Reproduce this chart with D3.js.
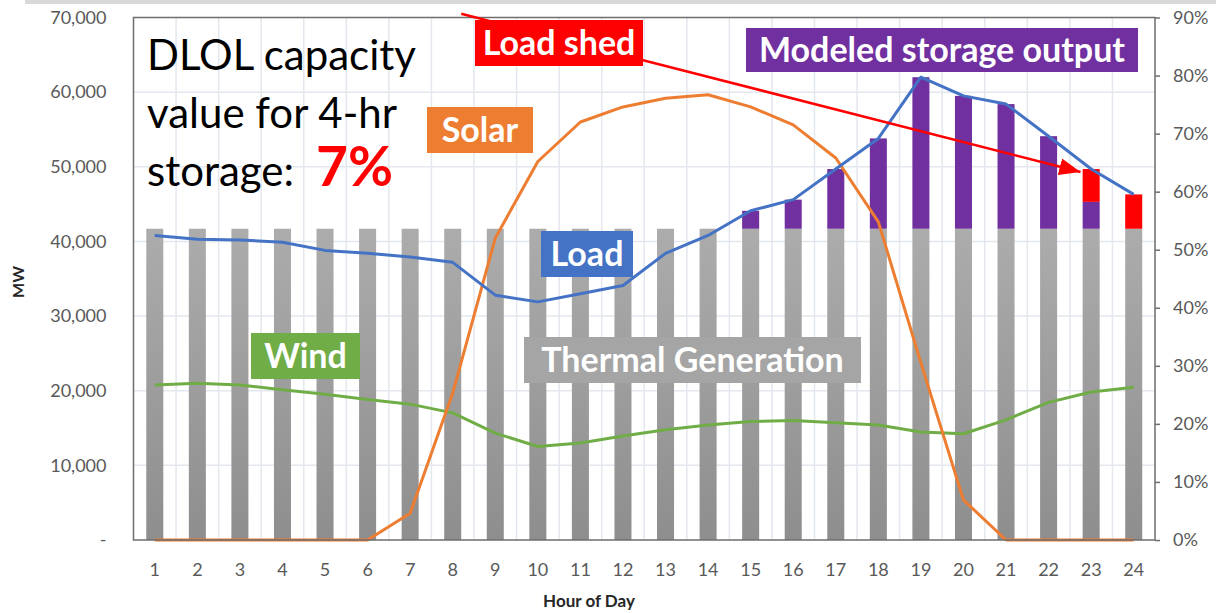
<!DOCTYPE html>
<html>
<head>
<meta charset="utf-8">
<script src="https://cdn.jsdelivr.net/npm/d3@7"></script>
<style>
  body { margin: 0; background: #fff; }
  svg { display: block; }
  .tick text { font-family: Lato, "Open Sans", sans-serif; fill: #595959; }
</style>
</head>
<body>
<div class="chartdiv"></div>
<script>
//chart data
var hours = ["1","2","3","4","5","6","7","8","9","10","11","12",
    "13","14","15","16","17","18","19","20","21","22","23","24"];
var thermalMW = [41700,41700,41700,41700,41700,41700,41700,41700,41700,41700,41700,41700,
    41700,41700,41700,41700,41700,41700,41700,41700,41700,41700,41700,41700];
var storageMW = [0,0,0,0,0,0,0,0,0,0,0,0,
    0,0,2400,3900,8000,12100,20300,17800,16700,12400,3600,0];
var loadShedMW = [0,0,0,0,0,0,0,0,0,0,0,0,
    0,0,0,0,0,0,0,0,0,0,4400,4600];
var loadMW = [40800,40300,40200,39900,38800,38400,37900,37200,32800,31900,33000,34100,
    38400,40800,44100,45600,49700,53800,62000,59500,58400,54100,49700,46300];
var solarPct = [0,0,0,0,0,0,0.046,0.253,0.520,0.652,0.720,0.746,
    0.761,0.767,0.746,0.715,0.658,0.548,0.305,0.069,0,0,0,0];
var windPct = [0.267,0.270,0.267,0.259,0.251,0.242,0.234,0.219,0.184,0.161,0.167,0.179,
    0.190,0.198,0.204,0.206,0.202,0.198,0.186,0.183,0.207,0.237,0.255,0.263];
var mwTicks = [0,10000,20000,30000,40000,50000,60000,70000];
var pctTicks = [0,0.1,0.2,0.3,0.4,0.5,0.6,0.7,0.8,0.9];

//frame
var width = 1216, height = 613;
var plotLeft = 133.5, plotRight = 1155, plotTop = 17.5, plotBottom = 540;

var svg = d3.select("div.chartdiv")
    .append("svg")
    .attr("width", width)
    .attr("height", height);

var defs = svg.append("defs");
var grad = defs.append("linearGradient")
    .attr("id", "thermalGrad")
    .attr("x1", 0).attr("y1", 0).attr("x2", 0).attr("y2", 1);
grad.append("stop").attr("offset", "0%").attr("stop-color", "#acacac");
grad.append("stop").attr("offset", "100%").attr("stop-color", "#8e8e8e");

defs.append("marker")
    .attr("id", "arrowhead")
    .attr("viewBox", "0 0 10 10")
    .attr("preserveAspectRatio", "none")
    .attr("refX", 10).attr("refY", 5)
    .attr("markerWidth", 8.5).attr("markerHeight", 6.8)
    .attr("markerUnits", "strokeWidth")
    .attr("orient", "auto")
    .append("path")
    .attr("d", "M0,0 L10,5 L0,10 z")
    .attr("fill", "#ff0000");

//top grey strip
svg.append("rect")
    .attr("x", 25).attr("y", 0)
    .attr("width", width - 25).attr("height", 4)
    .attr("fill", "#d9d9d9");

//scales
var x = d3.scaleBand()
    .domain(hours)
    .range([plotLeft, plotRight])
    .paddingInner(0.6)
    .paddingOuter(0.3);

var xLin = d3.scaleLinear() //hour position for annotations
    .domain([0.5, 24.5])
    .range([plotLeft, plotRight]);

var y = d3.scaleLinear()
    .domain([0, 70000])
    .range([plotBottom, plotTop]);

var yPct = d3.scaleLinear()
    .domain([0, 0.9])
    .range([plotBottom, plotTop]);

function cx(d, i){ return x(hours[i]) + x.bandwidth() / 2; }

//gridlines
var grid = svg.append("g").attr("class", "grid");
grid.selectAll(".hgrid")
    .data(mwTicks.slice(1, -1))
    .enter()
    .append("line")
    .attr("x1", plotLeft).attr("x2", plotRight)
    .attr("y1", function(d){ return y(d); })
    .attr("y2", function(d){ return y(d); })
    .attr("stroke", "#e3e7ee")
    .attr("stroke-width", 1.5);
grid.selectAll(".vgrid")
    .data(d3.range(1, hours.length))
    .enter()
    .append("line")
    .attr("x1", function(d){ return xLin(d + 0.5); })
    .attr("x2", function(d){ return xLin(d + 0.5); })
    .attr("y1", plotTop).attr("y2", plotBottom)
    .attr("stroke", "#e3e7ee")
    .attr("stroke-width", 1.5);

//stacked bars
var table = hours.map(function(h, i){
    return { hour: h, thermal: thermalMW[i], storage: storageMW[i], shed: loadShedMW[i] };
});
var stack = d3.stack().keys(["thermal", "storage", "shed"]);
var series = stack(table);
var fills = { thermal: "url(#thermalGrad)", storage: "#7030a0", shed: "#ff0000" };

svg.selectAll(".layer")
    .data(series)
    .enter()
    .append("g")
    .attr("class", "layer")
    .attr("fill", function(d){ return fills[d.key]; })
    .selectAll("rect")
    .data(function(d){ return d.filter(function(p){ return p[1] > p[0]; }); })
    .enter()
    .append("rect")
    .attr("x", function(d){ return x(d.data.hour); })
    .attr("width", x.bandwidth())
    .attr("y", function(d){ return y(d[1]); })
    .attr("height", function(d){ return y(d[0]) - y(d[1]); });

//lines
var lineMW = d3.line()
    .x(cx)
    .y(function(d){ return y(d); });
var linePct = d3.line()
    .x(cx)
    .y(function(d){ return yPct(d); });

svg.append("path")
    .datum(windPct)
    .attr("d", linePct)
    .attr("fill", "none")
    .attr("stroke", "#70ad47")
    .attr("stroke-width", 3)
    .attr("stroke-linejoin", "round");

svg.append("path")
    .datum(solarPct)
    .attr("d", linePct)
    .attr("fill", "none")
    .attr("stroke", "#ed7d31")
    .attr("stroke-width", 3)
    .attr("stroke-linejoin", "round");

svg.append("path")
    .datum(loadMW)
    .attr("d", lineMW)
    .attr("fill", "none")
    .attr("stroke", "#4472c4")
    .attr("stroke-width", 3)
    .attr("stroke-linejoin", "round");

//frame
svg.append("rect")
    .attr("x", plotLeft).attr("y", plotTop)
    .attr("width", plotRight - plotLeft).attr("height", plotBottom - plotTop)
    .attr("fill", "none")
    .attr("stroke", "#6e6e6e")
    .attr("stroke-width", 1.5);

//axes
var leftAxis = d3.axisLeft(y)
    .tickValues(mwTicks)
    .tickSize(0)
    .tickPadding(27)
    .tickFormat(function(d){ return d === 0 ? "-" : d3.format(",")(d); });
svg.append("g")
    .attr("transform", "translate(" + plotLeft + ",0)")
    .call(leftAxis)
    .call(function(g){ g.select(".domain").remove(); })
    .selectAll("text").style("font-size", "18px");

var rightAxis = d3.axisRight(yPct)
    .tickValues(pctTicks)
    .tickSize(5)
    .tickPadding(13)
    .tickFormat(d3.format(".0%"));
svg.append("g")
    .attr("transform", "translate(" + plotRight + ",0)")
    .call(rightAxis)
    .call(function(g){
        g.select(".domain").remove();
        g.selectAll(".tick line").attr("stroke", "#6e6e6e").attr("stroke-width", 1.5);
    })
    .selectAll("text").style("font-size", "18px");

var bottomAxis = d3.axisBottom(x)
    .tickSize(0)
    .tickPadding(23);
svg.append("g")
    .attr("transform", "translate(0," + plotBottom + ")")
    .call(bottomAxis)
    .call(function(g){ g.select(".domain").remove(); })
    .selectAll("text").style("font-size", "18px");

//axis titles
svg.append("text")
    .attr("transform", "translate(24,282) rotate(-90)")
    .attr("text-anchor", "middle")
    .style("font-family", "Lato, sans-serif")
    .style("font-weight", "bold")
    .style("font-size", "16px")
    .attr("fill", "#262626")
    .text("MW");

svg.append("text")
    .attr("x", 589).attr("y", 607)
    .attr("text-anchor", "middle")
    .style("font-family", "Lato, sans-serif")
    .style("font-weight", "bold")
    .style("font-size", "17px")
    .attr("fill", "#262626")
    .text("Hour of Day");

//load shed arrow
svg.append("line")
    .attr("x1", xLin(8.2)).attr("y1", y(70500))
    .attr("x2", xLin(22.75)).attr("y2", y(49300))
    .attr("stroke", "#ff0000")
    .attr("stroke-width", 2.5)
    .attr("marker-end", "url(#arrowhead)");

//label boxes
var boxes = [
    { text: "Load shed", x: 475, y: 20, w: 168, h: 46, fill: "#ff0000" },
    { text: "Modeled storage output", x: 746, y: 28, w: 392, h: 44, fill: "#7030a0" },
    { text: "Solar", x: 427, y: 107, w: 106, h: 46, fill: "#ed7d31" },
    { text: "Load", x: 541, y: 231, w: 92, h: 46, fill: "#4472c4" },
    { text: "Wind", x: 251, y: 333, w: 109, h: 46, fill: "#70ad47" },
    { text: "Thermal Generation", x: 524, y: 337, w: 337, h: 46, fill: "#a5a5a5" }
];
var boxG = svg.selectAll(".box")
    .data(boxes)
    .enter()
    .append("g")
    .attr("class", "box");
boxG.append("rect")
    .attr("x", function(d){ return d.x; })
    .attr("y", function(d){ return d.y; })
    .attr("width", function(d){ return d.w; })
    .attr("height", function(d){ return d.h; })
    .attr("fill", function(d){ return d.fill; });
boxG.append("text")
    .attr("x", function(d){ return d.x + d.w / 2; })
    .attr("y", function(d){ return d.y + d.h / 2 + 12; })
    .attr("text-anchor", "middle")
    .style("font-family", "Lato, sans-serif")
    .style("font-weight", "bold")
    .style("font-size", "34px")
    .attr("fill", "#ffffff")
    .text(function(d){ return d.text; });

//capacity value note
var note = svg.append("text")
    .style("font-family", "Lato, sans-serif")
    .style("font-size", "42px")
    .attr("fill", "#000000");
note.append("tspan").attr("x", 147).attr("y", 70).text("DLOL capacity");
note.append("tspan").attr("x", 147).attr("y", 128).text("value for 4-hr");
note.append("tspan").attr("x", 147).attr("y", 186).text("storage:");
note.append("tspan")
    .attr("x", 316)
    .style("font-weight", "bold")
    .style("font-size", "55px")
    .attr("fill", "#ff0000")
    .text("7%");
</script>
</body>
</html>
